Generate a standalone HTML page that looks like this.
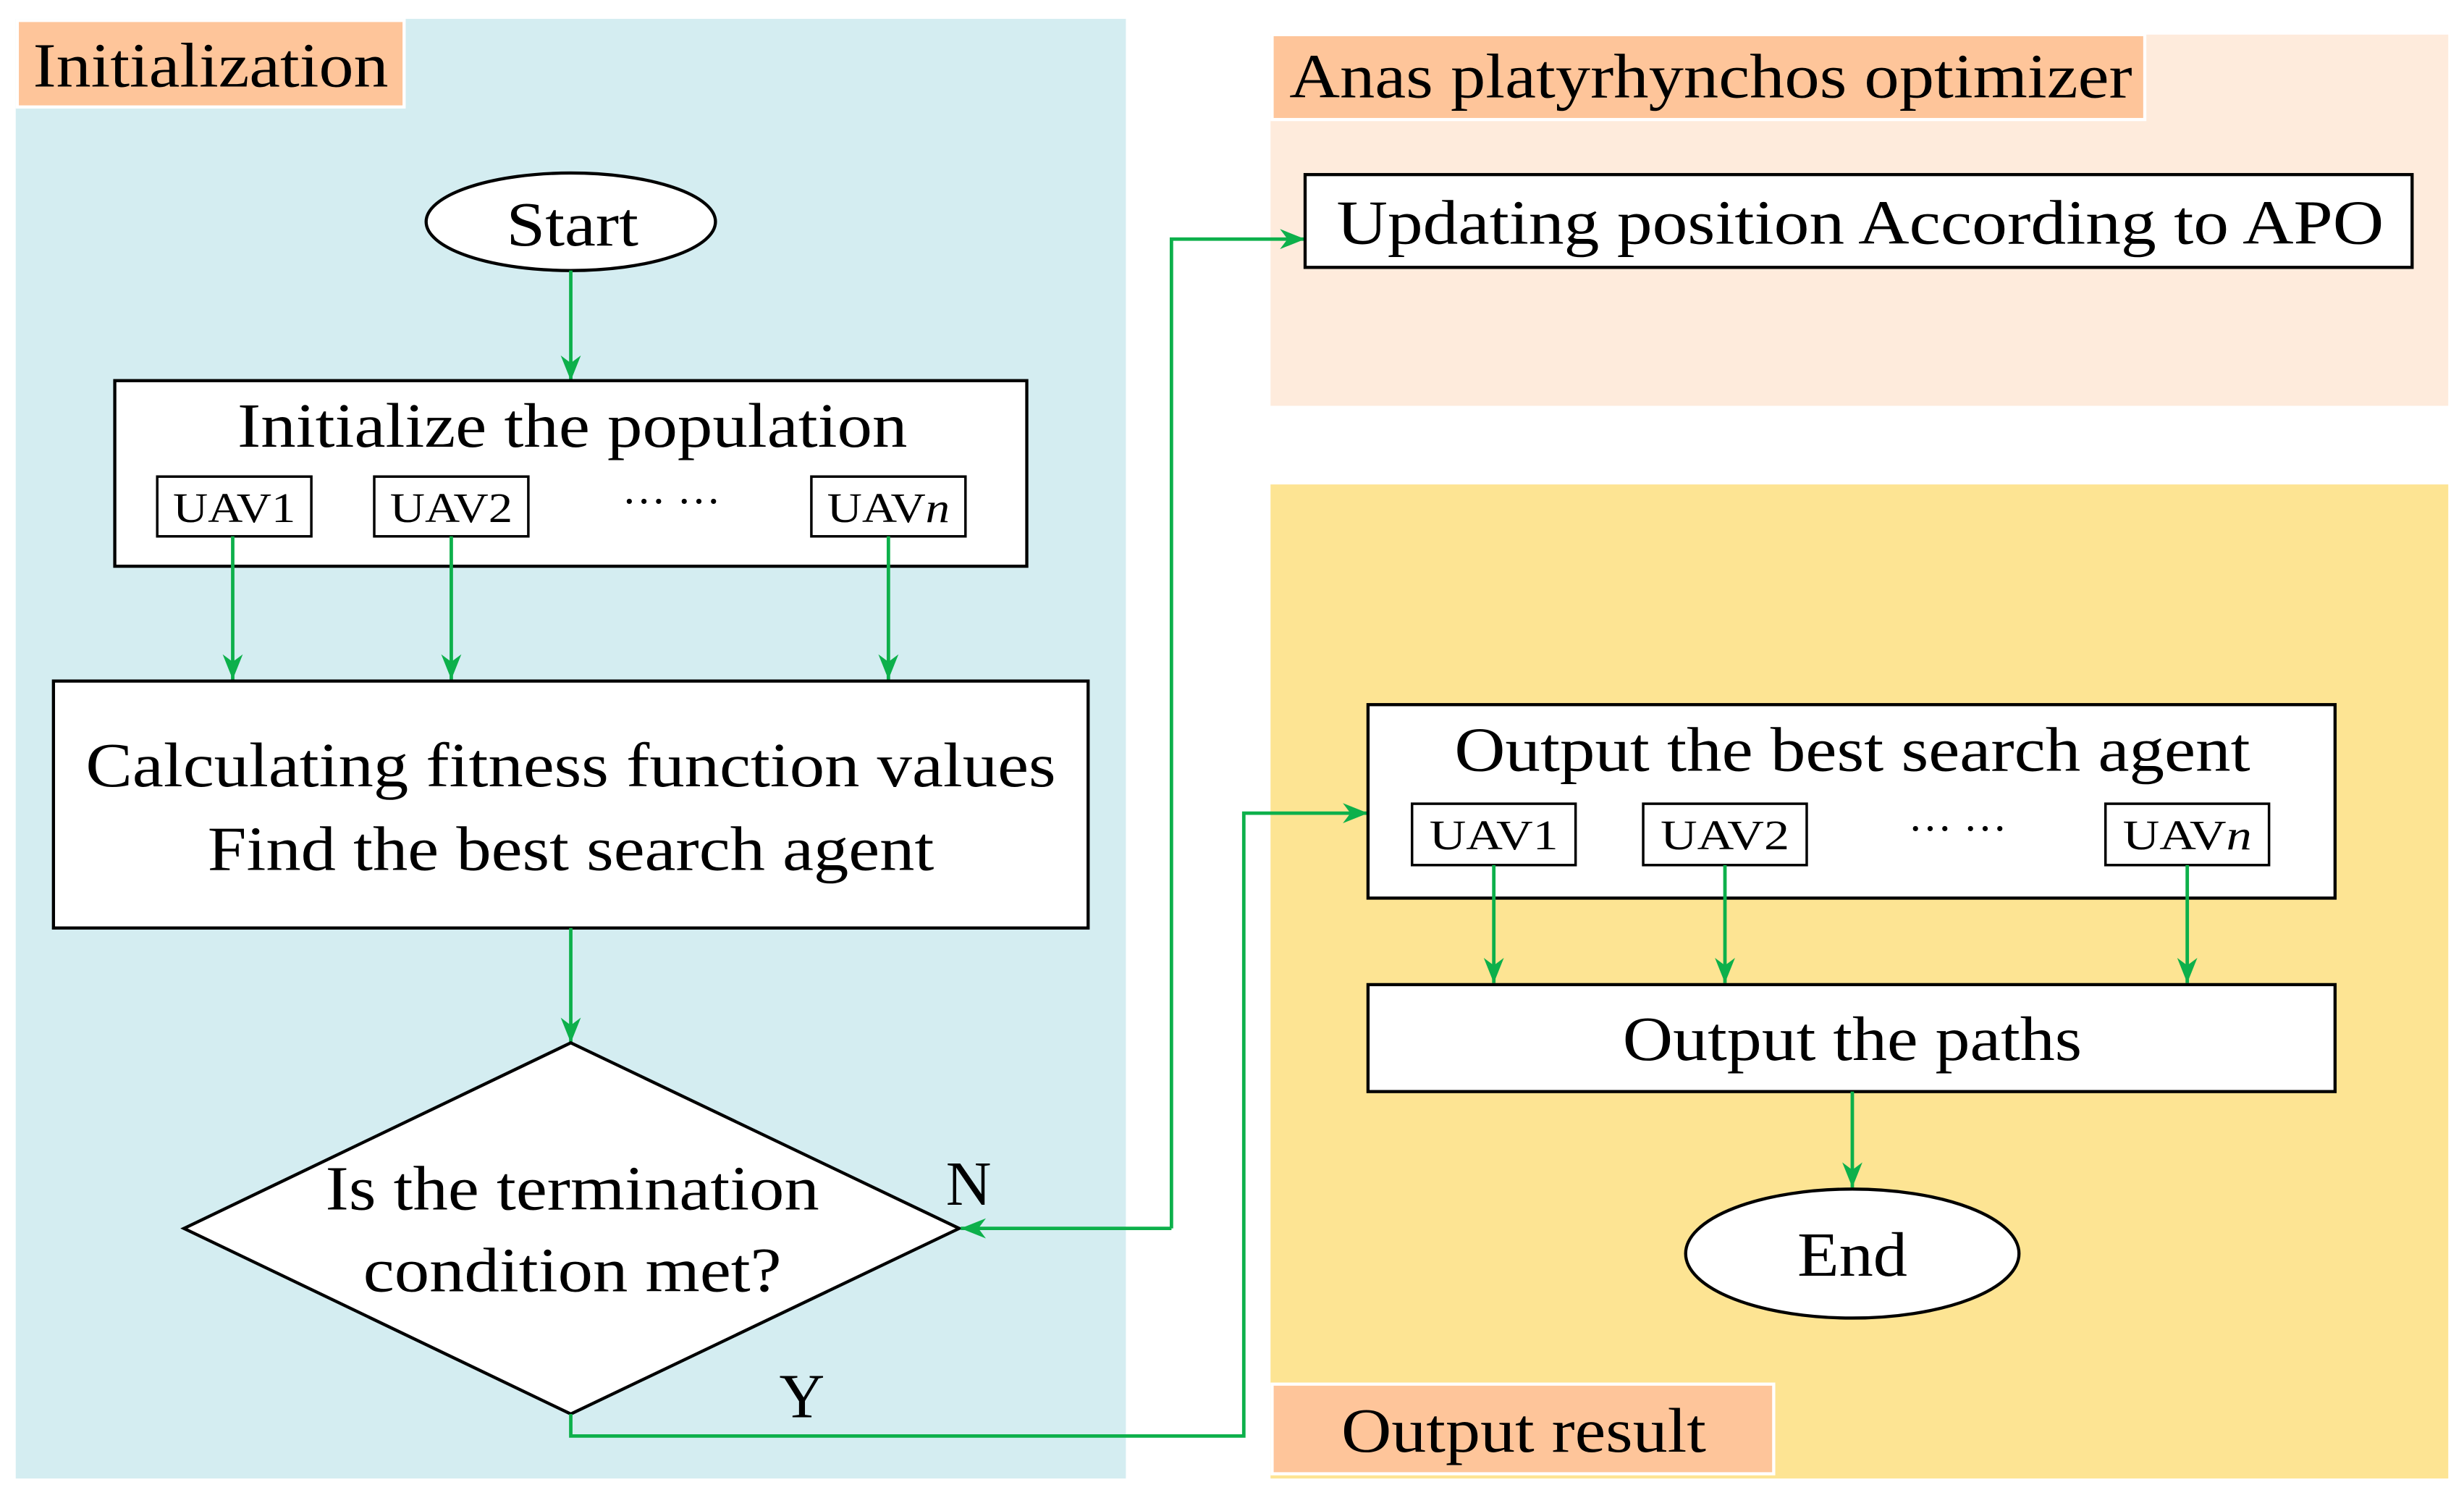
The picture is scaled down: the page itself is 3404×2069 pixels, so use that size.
<!DOCTYPE html>
<html><head><meta charset="utf-8"><style>
html,body{margin:0;padding:0;background:#fff}
svg{display:block}
text{font-family:"Liberation Serif","Times New Roman",serif;fill:#000}
</style></head><body>
<svg width="3404" height="2069" viewBox="0 0 1567 952.4" preserveAspectRatio="none" xmlns="http://www.w3.org/2000/svg">
<defs>
<marker id="a" viewBox="0 0 10 10" refX="10" refY="5" markerWidth="16" markerHeight="16" markerUnits="userSpaceOnUse" orient="auto">
<path d="M0,1 L10,5 L0,9 L3,5 Z" fill="#0db04b"/></marker>
</defs>
<rect x="0" y="0" width="1567" height="952.4" fill="#fff"/>
<rect x="10" y="12" width="706" height="928" fill="#d4edf1"/>
<rect x="11" y="13" width="246" height="55" fill="#fec59a" stroke="#fff" stroke-width="2"/>
<text x="134" y="55" font-size="40" text-anchor="middle" textLength="226" lengthAdjust="spacingAndGlyphs">Initialization</text>

<rect x="808" y="22" width="749" height="236" fill="#feebdc"/>
<rect x="809" y="22" width="555" height="54" fill="#fec59a" stroke="#fff" stroke-width="2"/>
<text x="1088" y="62" font-size="40" text-anchor="middle" textLength="536" lengthAdjust="spacingAndGlyphs">Anas platyrhynchos optimizer</text>

<rect x="808" y="308" width="749" height="632" fill="#fde493"/>
<rect x="809" y="880" width="319" height="57" fill="#fec59a" stroke="#fff" stroke-width="2"/>
<text x="969" y="923" font-size="40" text-anchor="middle" textLength="232" lengthAdjust="spacingAndGlyphs">Output result</text>

<ellipse cx="363" cy="141" rx="92" ry="31" fill="#fff" stroke="#000" stroke-width="2"/>
<text x="364" y="156" font-size="40" text-anchor="middle" textLength="84" lengthAdjust="spacingAndGlyphs">Start</text>
<line x1="363" y1="172" x2="363" y2="242" stroke="#0db04b" stroke-width="2.2" marker-end="url(#a)"/>

<rect x="73" y="242" width="580" height="118" fill="#fff" stroke="#000" stroke-width="2"/>
<text x="364" y="284" font-size="40" text-anchor="middle" textLength="426" lengthAdjust="spacingAndGlyphs">Initialize the population</text>
<rect x="100" y="303" width="98" height="38" fill="#fff" stroke="#000" stroke-width="1.6"/>
<text x="149" y="332" font-size="27" text-anchor="middle" textLength="78" lengthAdjust="spacingAndGlyphs">UAV1</text>
<rect x="238" y="303" width="98" height="38" fill="#fff" stroke="#000" stroke-width="1.6"/>
<text x="287" y="332" font-size="27" text-anchor="middle" textLength="78" lengthAdjust="spacingAndGlyphs">UAV2</text>
<text x="427" y="328" font-size="28" text-anchor="middle">··· ···</text>
<rect x="516" y="303" width="98" height="38" fill="#fff" stroke="#000" stroke-width="1.6"/>
<text x="565" y="332" font-size="27" text-anchor="middle" textLength="78" lengthAdjust="spacingAndGlyphs">UAV<tspan font-style="italic">n</tspan></text>

<line x1="148" y1="341" x2="148" y2="432" stroke="#0db04b" stroke-width="2.2" marker-end="url(#a)"/>
<line x1="287" y1="341" x2="287" y2="432" stroke="#0db04b" stroke-width="2.2" marker-end="url(#a)"/>
<line x1="565" y1="341" x2="565" y2="432" stroke="#0db04b" stroke-width="2.2" marker-end="url(#a)"/>

<rect x="34" y="433" width="658" height="157" fill="#fff" stroke="#000" stroke-width="2"/>
<text x="363" y="500" font-size="40" text-anchor="middle" textLength="617" lengthAdjust="spacingAndGlyphs">Calculating fitness function values</text>
<text x="363" y="553" font-size="40" text-anchor="middle" textLength="462" lengthAdjust="spacingAndGlyphs">Find the best search agent</text>

<line x1="363" y1="590" x2="363" y2="663" stroke="#0db04b" stroke-width="2.2" marker-end="url(#a)"/>
<polygon points="363,663 610,781 363,899 117,781" fill="#fff" stroke="#000" stroke-width="2"/>
<text x="364" y="769" font-size="40" text-anchor="middle" textLength="314" lengthAdjust="spacingAndGlyphs">Is the termination</text>
<text x="364" y="821" font-size="40" text-anchor="middle" textLength="266" lengthAdjust="spacingAndGlyphs">condition met?</text>
<text x="616" y="766" font-size="40" text-anchor="middle">N</text>
<text x="510" y="901" font-size="40" text-anchor="middle">Y</text>

<polyline points="745,781 745,152 830,152" fill="none" stroke="#0db04b" stroke-width="2.2" marker-end="url(#a)"/>
<line x1="745" y1="781" x2="611" y2="781" stroke="#0db04b" stroke-width="2.2" marker-end="url(#a)"/>
<polyline points="363,899 363,913 791,913 791,517 870,517" fill="none" stroke="#0db04b" stroke-width="2.2" marker-end="url(#a)"/>

<rect x="830" y="111" width="704" height="59" fill="#fff" stroke="#000" stroke-width="2"/>
<text x="1183" y="155" font-size="40" text-anchor="middle" textLength="666" lengthAdjust="spacingAndGlyphs">Updating position According to APO</text>

<rect x="870" y="448" width="615" height="123" fill="#fff" stroke="#000" stroke-width="2"/>
<text x="1178" y="490" font-size="40" text-anchor="middle" textLength="506" lengthAdjust="spacingAndGlyphs">Output the best search agent</text>
<rect x="898" y="511" width="104" height="39" fill="#fff" stroke="#000" stroke-width="1.6"/>
<text x="950" y="540" font-size="27" text-anchor="middle" textLength="82" lengthAdjust="spacingAndGlyphs">UAV1</text>
<rect x="1045" y="511" width="104" height="39" fill="#fff" stroke="#000" stroke-width="1.6"/>
<text x="1097" y="540" font-size="27" text-anchor="middle" textLength="82" lengthAdjust="spacingAndGlyphs">UAV2</text>
<text x="1245" y="536" font-size="28" text-anchor="middle">··· ···</text>
<rect x="1339" y="511" width="104" height="39" fill="#fff" stroke="#000" stroke-width="1.6"/>
<text x="1391" y="540" font-size="27" text-anchor="middle" textLength="82" lengthAdjust="spacingAndGlyphs">UAV<tspan font-style="italic">n</tspan></text>

<line x1="950" y1="550" x2="950" y2="625" stroke="#0db04b" stroke-width="2.2" marker-end="url(#a)"/>
<line x1="1097" y1="550" x2="1097" y2="625" stroke="#0db04b" stroke-width="2.2" marker-end="url(#a)"/>
<line x1="1391" y1="550" x2="1391" y2="625" stroke="#0db04b" stroke-width="2.2" marker-end="url(#a)"/>

<rect x="870" y="626" width="615" height="68" fill="#fff" stroke="#000" stroke-width="2"/>
<text x="1178" y="674" font-size="40" text-anchor="middle" textLength="292" lengthAdjust="spacingAndGlyphs">Output the paths</text>

<line x1="1178" y1="694" x2="1178" y2="755" stroke="#0db04b" stroke-width="2.2" marker-end="url(#a)"/>
<ellipse cx="1178" cy="797" rx="106" ry="41" fill="#fff" stroke="#000" stroke-width="2"/>
<text x="1178" y="811" font-size="40" text-anchor="middle" textLength="70" lengthAdjust="spacingAndGlyphs">End</text>
</svg>
</body></html>
